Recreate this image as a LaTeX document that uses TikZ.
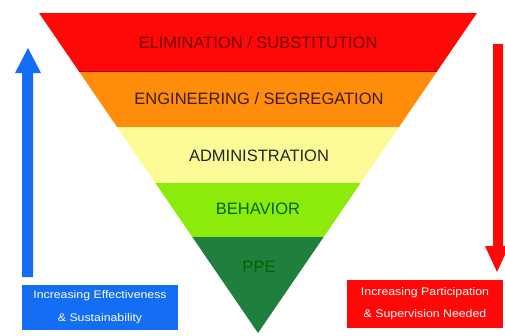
\documentclass[tikz,border=0pt]{standalone}
\usepackage{fontspec}
\setmainfont{Liberation Sans}
\usetikzlibrary{calc}
\definecolor{cRed}{RGB}{255,8,8}
\definecolor{cOrange}{RGB}{255,140,10}
\definecolor{cYellow}{RGB}{252,250,150}
\definecolor{cLime}{RGB}{140,235,10}
\definecolor{cDark}{RGB}{30,128,60}
\definecolor{cBlue}{RGB}{20,110,245}
\definecolor{cTxt}{RGB}{60,30,20}
\tikzset{
  lbl/.style={font=\fontsize{16.5}{18}\selectfont, text=cTxt, inner sep=0pt},
  boxtxt/.style={font=\fontsize{11}{13}\selectfont, text=white, inner sep=0pt},
}
\begin{document}
\begin{tikzpicture}[x=1pt,y=-1pt]
\useasboundingbox (0,0) rectangle (505,335);
\fill[white] (0,0) rectangle (505,335);
\coordinate (T1) at (39,13);
\coordinate (T2) at (477,13);
\coordinate (A) at (258,333);
\coordinate (L1) at ($(T1)!0.18125!(A)$); \coordinate (R1) at ($(T2)!0.18125!(A)$);
\coordinate (L2) at ($(T1)!0.35625!(A)$); \coordinate (R2) at ($(T2)!0.35625!(A)$);
\coordinate (L3) at ($(T1)!0.53125!(A)$); \coordinate (R3) at ($(T2)!0.53125!(A)$);
\coordinate (L4) at ($(T1)!0.7!(A)$);     \coordinate (R4) at ($(T2)!0.7!(A)$);
\fill[cRed] (T1) -- (T2) -- (R1) -- (L1) -- cycle;
\fill[cOrange] (L1) -- (R1) -- (R2) -- (L2) -- cycle;
\fill[cYellow] (L2) -- (R2) -- (R3) -- (L3) -- cycle;
\fill[cLime] (L3) -- (R3) -- (R4) -- (L4) -- cycle;
\fill[cDark] (L4) -- (R4) -- (A) -- cycle;
\draw[black!30!red, line width=0.8pt] (L1) -- (R1);
\node[lbl, text=black!55!red] (elim) at (258,43) {ELIMINATION / SUBSTITUTION};
\node[lbl] (eng) at (259,99) {ENGINEERING / SEGREGATION};
\node[lbl, text=black!85] (adm) at (259,156) {ADMINISTRATION};
\node[lbl, text=black!60!green] (beh) at (258,209) {BEHAVIOR};
\node[lbl, text=black!60!green] (ppe) at (259,267) {PPE};
% blue arrow
\fill[cBlue] (22,277) -- (22,73) -- (15,73) -- (28,48) -- (41,73) -- (33,73) -- (33,277) -- cycle;
% red arrow
\fill[cRed] (493,44) -- (503,44) -- (503,246) -- (509,246) -- (497,272) -- (485,246) -- (493,246) -- cycle;
% boxes
\fill[cBlue] (22,285) rectangle (178,330);
\node[boxtxt] (b1) at (100,296) {\scalebox{1.12}[1]{Increasing Effectiveness}};
\node[boxtxt] (b2) at (100,319) {\scalebox{1.12}[1]{\& Sustainability}};
\fill[cRed] (347,280) rectangle (503,328);
\node[boxtxt] (r1) at (425,293) {\scalebox{1.12}[1]{Increasing Participation}};
\node[boxtxt] (r2) at (425,315) {\scalebox{1.12}[1]{\& Supervision Needed}};
\end{tikzpicture}
\end{document}
